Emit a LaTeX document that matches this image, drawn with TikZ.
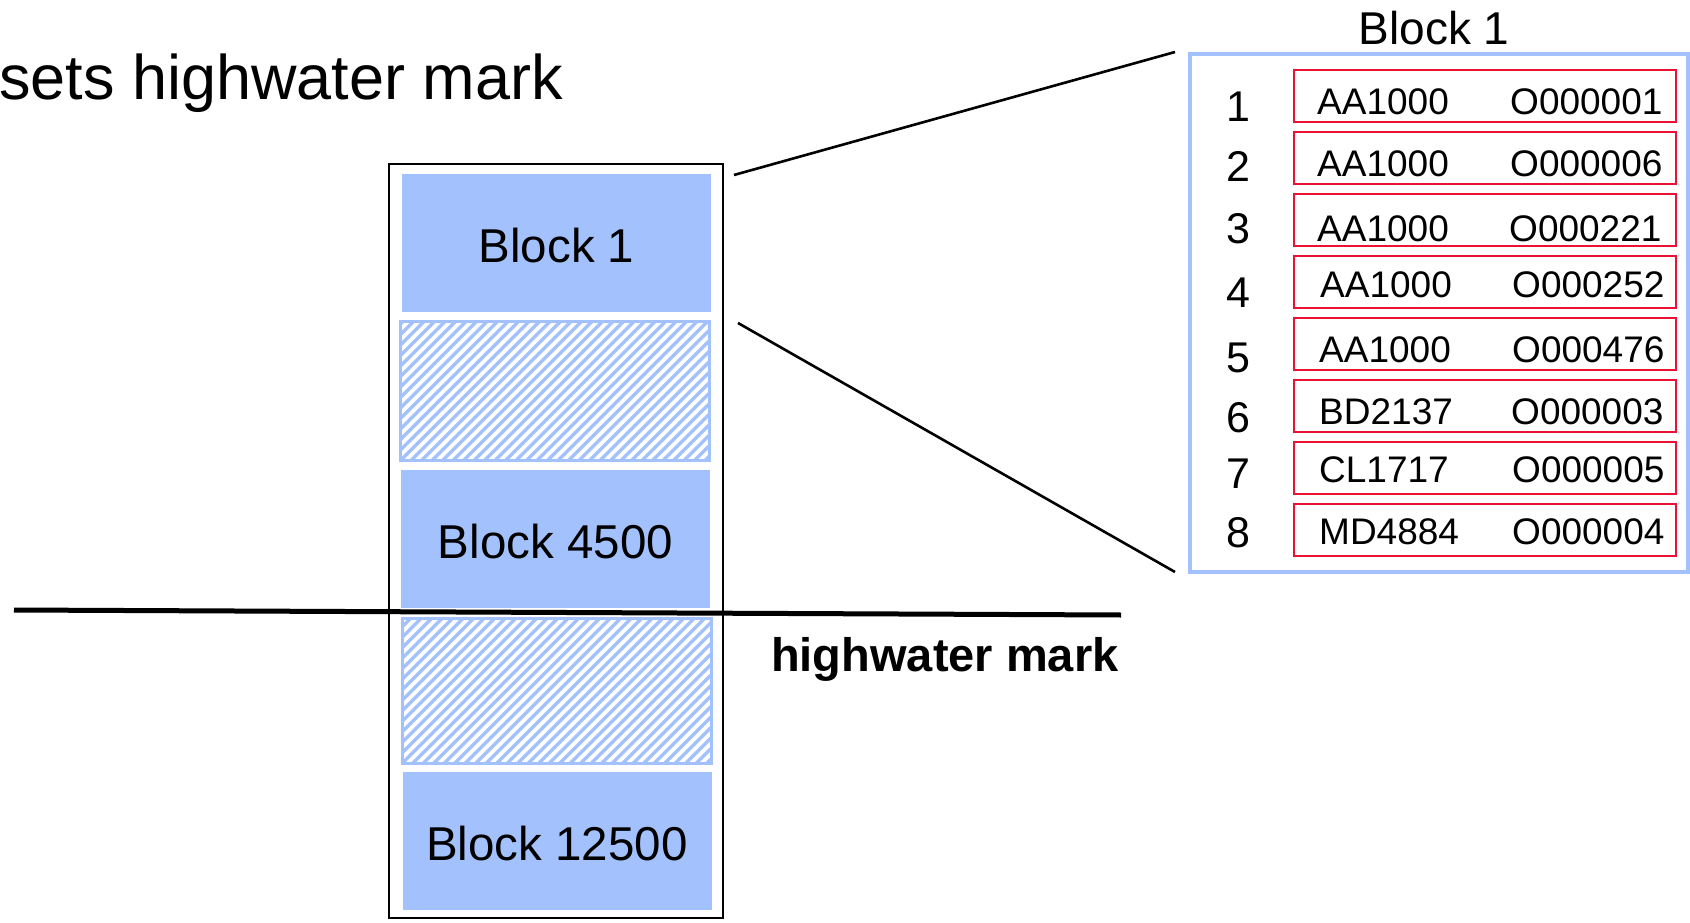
\documentclass[tikz,border=0pt]{standalone}
\usepackage{fontspec}
\setmainfont{Liberation Sans}
\definecolor{blockblue}{RGB}{163,193,252}
\definecolor{rowred}{RGB}{236,18,52}
\begin{document}
\begin{tikzpicture}[x=1pt,y=-1pt,
  blk/.style={fill=blockblue, draw=none, inner sep=0pt, minimum width=309pt, minimum height=138pt, font=\fontsize{47.5}{50}\selectfont, text height=39pt, text depth=0pt},
  hatchframe/.style={draw=blockblue, line width=2pt, fill=white, inner sep=0pt, minimum width=308pt, minimum height=138pt},
  hatchline/.style={draw=blockblue, line width=3.4pt},
  rowbox/.style={draw=rowred, line width=2.5pt, inner sep=0pt, minimum width=382pt, minimum height=52pt},
  rowtxt/.style={anchor=base west, inner sep=0pt, font=\fontsize{37}{40}\selectfont},
  rownum/.style={anchor=base, inner sep=0pt, font=\fontsize{43}{46}\selectfont},
  conn/.style={draw=black, line width=2.6pt}]
\useasboundingbox (0,0) rectangle (1690,923);

% title text (cut at left edge)
\node[anchor=base west, inner sep=0pt, font=\fontsize{63}{66}\selectfont] (title) at (-1,100) {sets highwater mark};

% column box
\node[draw=black, line width=2.8pt, inner sep=0pt, minimum width=334pt, minimum height=754pt] (col) at (556,541) {};

% blocks
\node[blk] (b1) at (556.5,243) {Block 1};
\node[hatchframe] (h1) at (555,391) {};
\node[blk] (b4500) at (555.5,539) {Block 4500};
\node[hatchframe, minimum height=144pt] (h2) at (556.5,691) {};
\node[blk] (b12500) at (557,841) {Block 12500};

% hatching
\foreach \h in {h1,h2}{
  \begin{scope}
    \clip (\h.south west) rectangle (\h.north east);
    \foreach \k in {-16,...,31}
      \draw[hatchline] ([xshift=\k*10.5pt]\h.south west) -- ++(160,-160);
  \end{scope}
  \draw[draw=blockblue, line width=2pt] (\h.south west) rectangle (\h.north east);
}

% highwater mark line
\coordinate (hwL) at (14,610);
\coordinate (hwR) at (1121,615);
\draw[line width=5pt] (hwL) -- (hwR);
\node[anchor=base west, inner sep=0pt, font=\bfseries\fontsize{47}{50}\selectfont] (hwtext) at (771,671) {highwater mark};

% zoomed block 1
\node[draw=blockblue, line width=4pt, inner sep=0pt, minimum width=498pt, minimum height=518pt] (tbl) at (1439,313) {};
\node[anchor=base, inner sep=0pt, font=\fontsize{46}{50}\selectfont] (tbltitle) at (1434,45) {Block 1};

\foreach \i/\a/\b/\tb/\nb/\xa/\xb in {1/AA1000/O000001/115/122/1317/1510, 2/AA1000/O000006/177/182/1317/1510, 3/AA1000/O000221/241/243/1317/1509, 4/AA1000/O000252/297/307/1320/1512, 5/AA1000/O000476/362/372/1319/1512, 6/BD2137/O000003/424/432/1319/1511, 7/CL1717/O000005/482/488/1319/1512, 8/MD4884/O000004/544/547/1319/1512}{
  \pgfmathsetmacro\top{70+62*(\i-1)}
  \node[rowbox] (r\i) at (1485,\top+26) {};
  \node[rowtxt] (ra\i) at (\xa,\tb) {\a};
  \node[rowtxt] (rb\i) at (\xb,\tb) {\b};
  \node[rownum] (n\i) at (1238,\nb) {\i};
}

% connectors
\coordinate (c1a) at (734,175);
\coordinate (c1b) at (1175,52);
\coordinate (c2a) at (738,323);
\coordinate (c2b) at (1175,572);
\draw[conn] (c1a) -- (c1b);
\draw[conn] (c2a) -- (c2b);
\end{tikzpicture}
\end{document}
